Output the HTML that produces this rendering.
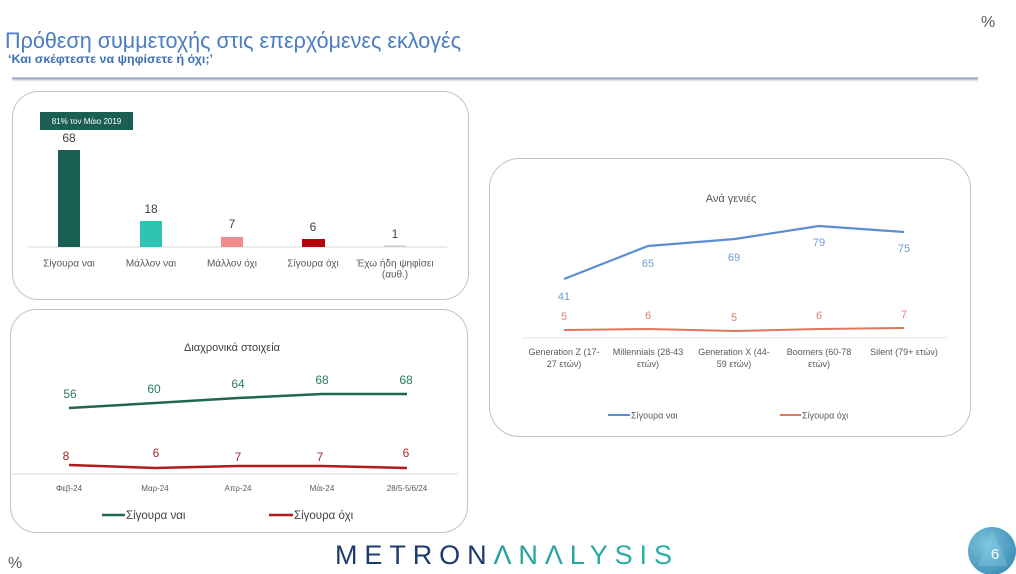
<!DOCTYPE html>
<html>
<head>
<meta charset="utf-8">
<style>
html,body{margin:0;padding:0;background:#ffffff;}
svg{display:block;}
text{font-family:"Liberation Sans","Noto Sans CJK JP",sans-serif;}
</style>
</head>
<body>
<svg width="1016" height="574" viewBox="0 0 1016 574" xmlns="http://www.w3.org/2000/svg">
<defs>
<radialGradient id="cg" cx="0.35" cy="0.35" r="0.75">
<stop offset="0" stop-color="#7cc3dc"/>
<stop offset="1" stop-color="#3b8db6"/>
</radialGradient>
<linearGradient id="tg" x1="0" y1="0" x2="1" y2="0">
<stop offset="0" stop-color="#1a8f92"/>
<stop offset="1" stop-color="#2bb3a6"/>
</linearGradient>
</defs>
<rect x="0" y="0" width="1016" height="574" fill="#ffffff"/>

<!-- Header -->
<text x="5" y="48" font-size="22" fill="#4a7dc2" textLength="456" lengthAdjust="spacingAndGlyphs">Πρόθεση συμμετοχής στις επερχόμενες εκλογές</text>
<text x="8" y="63" font-size="12" font-weight="bold" fill="#3d6fb3" textLength="205" lengthAdjust="spacingAndGlyphs">‘Και σκέφτεστε να ψηφίσετε ή όχι;’</text>
<line x1="12" y1="78.5" x2="978" y2="78.5" stroke="#9fb2cf" stroke-width="2.5"/>
<line x1="12" y1="80.5" x2="978" y2="80.5" stroke="#dfe6ef" stroke-width="1.5"/>
<text x="981" y="27" font-size="16" fill="#5a5a5a">%</text>

<!-- Panel 1 -->
<rect x="12.5" y="91.5" width="456" height="208" rx="26" ry="26" fill="#ffffff" stroke="#bfc3c9" stroke-width="1"/>
<rect x="40" y="112" width="93" height="18" fill="#1b5e52"/>
<text x="86.5" y="124" font-size="8" fill="#ffffff" text-anchor="middle">81% τον Μάιο 2019</text>
<line x1="28" y1="247" x2="447" y2="247" stroke="#d9d9d9" stroke-width="1"/>
<rect x="58" y="150" width="22" height="97" fill="#1b5e52"/>
<rect x="140" y="221" width="22" height="26" fill="#2ec4b4"/>
<rect x="221" y="237" width="22" height="10" fill="#f28b8c"/>
<rect x="302" y="239" width="23" height="8" fill="#b5000c"/>
<rect x="384" y="245.5" width="22" height="1.5" fill="#c8c8c8"/>
<g font-size="12" fill="#404040" text-anchor="middle">
<text x="69" y="142">68</text>
<text x="151" y="213">18</text>
<text x="232" y="228">7</text>
<text x="313" y="231">6</text>
<text x="395" y="238">1</text>
</g>
<g font-size="10" fill="#595959" text-anchor="middle">
<text x="69" y="266.5">Σίγουρα ναι</text>
<text x="151" y="266.5">Μάλλον ναι</text>
<text x="232" y="266.5">Μάλλον όχι</text>
<text x="313" y="266.5">Σίγουρα όχι</text>
<text x="395" y="266.5">Έχω ήδη ψηφίσει</text>
<text x="395" y="277.5">(αυθ.)</text>
</g>

<!-- Panel 2 -->
<rect x="10.5" y="309.5" width="457" height="223" rx="26" ry="26" fill="#ffffff" stroke="#bfc3c9" stroke-width="1"/>
<text x="232" y="351" font-size="11" fill="#404040" text-anchor="middle">Διαχρονικά στοιχεία</text>
<line x1="10" y1="474" x2="458" y2="474" stroke="#d9d9d9" stroke-width="1"/>
<polyline points="69,408 155,403 238,398 322,394 407,394" fill="none" stroke="#1e6656" stroke-width="2.5" stroke-linejoin="round"/>
<polyline points="69,465 155,468 238,466 322,466 407,468" fill="none" stroke="#b01c1c" stroke-width="2.5" stroke-linejoin="round"/>
<g font-size="12" fill="#2d7a68" text-anchor="middle">
<text x="70" y="398">56</text>
<text x="154" y="393">60</text>
<text x="238" y="388">64</text>
<text x="322" y="384">68</text>
<text x="406" y="384">68</text>
</g>
<g font-size="12" fill="#a82a2a" text-anchor="middle">
<text x="66" y="460">8</text>
<text x="156" y="457">6</text>
<text x="238" y="461">7</text>
<text x="320" y="461">7</text>
<text x="406" y="457">6</text>
</g>
<g font-size="8" fill="#595959" text-anchor="middle">
<text x="69" y="491">Φεβ-24</text>
<text x="155" y="491">Μαρ-24</text>
<text x="238" y="491">Απρ-24</text>
<text x="322" y="491">Μάι-24</text>
<text x="407" y="491">28/5-5/6/24</text>
</g>
<line x1="102" y1="515" x2="125" y2="515" stroke="#1e6656" stroke-width="2.5"/>
<text x="126" y="519" font-size="11.5" fill="#404040">Σίγουρα ναι</text>
<line x1="269" y1="515" x2="293" y2="515" stroke="#b01c1c" stroke-width="2.5"/>
<text x="294" y="519" font-size="11.5" fill="#404040">Σίγουρα όχι</text>

<!-- Panel 3 -->
<rect x="489.5" y="158.5" width="481" height="278" rx="30" ry="30" fill="#ffffff" stroke="#bfc3c9" stroke-width="1"/>
<text x="731" y="202" font-size="11" fill="#595959" text-anchor="middle">Ανά γενιές</text>
<line x1="522" y1="338" x2="947" y2="338" stroke="#e3e3e3" stroke-width="1"/>
<polyline points="564,279 648,246 735,239 819,226 904,232" fill="none" stroke="#5a8ed2" stroke-width="2.2" stroke-linejoin="round"/>
<polyline points="564,330 648,329 735,331 819,329 904,328" fill="none" stroke="#e0765e" stroke-width="2" stroke-linejoin="round"/>
<g font-size="11" fill="#6d9bd3" text-anchor="middle">
<text x="564" y="300">41</text>
<text x="648" y="267">65</text>
<text x="734" y="261">69</text>
<text x="819" y="246">79</text>
<text x="904" y="252">75</text>
</g>
<g font-size="11" fill="#e0806a" text-anchor="middle">
<text x="564" y="320">5</text>
<text x="648" y="319">6</text>
<text x="734" y="321">5</text>
<text x="819" y="319">6</text>
<text x="904" y="318">7</text>
</g>
<g font-size="9" fill="#595959" text-anchor="middle">
<text x="564" y="355">Generation Z (17-</text>
<text x="564" y="367">27 ετών)</text>
<text x="648" y="355">Millennials (28-43</text>
<text x="648" y="367">ετών)</text>
<text x="734" y="355">Generation X (44-</text>
<text x="734" y="367">59 ετών)</text>
<text x="819" y="355">Boomers (60-78</text>
<text x="819" y="367">ετών)</text>
<text x="904" y="355">Silent (79+ ετών)</text>
</g>
<line x1="608" y1="415" x2="630" y2="415" stroke="#5a8ed2" stroke-width="2"/>
<text x="631" y="418.5" font-size="9" fill="#595959">Σίγουρα ναι</text>
<line x1="780" y1="415" x2="801" y2="415" stroke="#e0765e" stroke-width="2"/>
<text x="802" y="418.5" font-size="9" fill="#595959">Σίγουρα όχι</text>

<!-- Footer -->
<text x="8" y="568" font-size="16" fill="#5a5a5a">%</text>
<text x="335" y="564" font-size="27" textLength="337" lengthAdjust="spacing"><tspan fill="#1e3a6e">METRON</tspan><tspan fill="url(#tg)">ΛNΛLYSIS</tspan></text>
<circle cx="992" cy="551" r="24" fill="url(#cg)"/>
<polygon points="992,530 1008,566 978,566" fill="#8fd0e4" opacity="0.35"/>
<text x="995" y="559" font-size="15" fill="#ffffff" text-anchor="middle">6</text>
</svg>
</body>
</html>
